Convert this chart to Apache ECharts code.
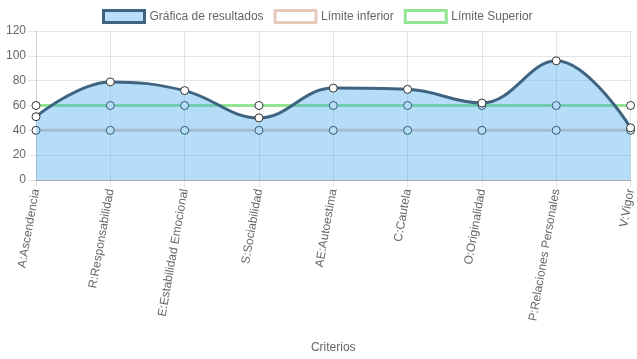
<!DOCTYPE html>
<html><head><meta charset="utf-8">
<script src="https://cdn.jsdelivr.net/npm/echarts@6/dist/echarts.min.js"></script>
<style>html,body{margin:0;padding:0;background:#fff}#c{width:637px;height:359px}</style>
</head><body><div id="c"></div>
<script>
const categories = ["A:Ascendencia","R:Responsabilidad","E:Estabilidad Emocional","S:Sociabilidad","AE:Autoestima","C:Cautela","O:Originalidad","P:Relaciones Personales","V:Vigor"];
const resultados = [51, 79, 72, 50, 74, 73, 62, 96, 42];
const limiteInferior = [40, 40, 40, 40, 40, 40, 40, 40, 40];
const limiteSuperior = [60, 60, 60, 60, 60, 60, 60, 60, 60];
const yTicks = {min: 0, max: 120, interval: 20};

const font = 'Liberation Sans, Arial, Helvetica, sans-serif';
const chart = echarts.init(document.getElementById('c'), null, {renderer: 'canvas'});
const sym = {color: '#fff', borderColor: '#333', borderWidth: 1};
chart.setOption({
  animation: false,
  textStyle: {fontFamily: font},
  legend: {
    top: 4, left: 97, itemWidth: 41, itemHeight: 12, itemGap: 10,
    textStyle: {color: '#666', fontSize: 12, fontFamily: font},
    data: [
      {name: 'Gráfica de resultados', icon: 'rect', itemStyle: {color: '#b9def8', borderColor: '#3e6482', borderWidth: 3}},
      {name: 'Límite inferior', icon: 'rect', itemStyle: {color: '#fff', borderColor: '#e6cbbd', borderWidth: 3}},
      {name: 'Límite Superior', icon: 'rect', itemStyle: {color: '#fff', borderColor: '#92e592', borderWidth: 3}}
    ]
  },
  grid: {left: 36, right: 4, top: 31, bottom: 179, containLabel: false},
  xAxis: {
    type: 'category', data: categories, boundaryGap: false,
    name: 'Criterios', nameLocation: 'middle', nameGap: 162,
    nameTextStyle: {color: '#666', fontSize: 12, fontFamily: font},
    axisLine: {show: true, lineStyle: {color: 'rgba(0,0,0,0.25)'}},
    axisTick: {show: true, length: 7, lineStyle: {color: 'rgba(0,0,0,0.1)'}},
    splitLine: {show: true, lineStyle: {color: 'rgba(0,0,0,0.1)'}},
    axisLabel: {rotate: 80, color: '#666', fontSize: 12, fontFamily: font, margin: 9, interval: 0}
  },
  yAxis: {
    type: 'value', min: yTicks.min, max: yTicks.max, interval: yTicks.interval,
    axisLine: {show: true, lineStyle: {color: 'rgba(0,0,0,0.1)'}},
    axisTick: {show: true, length: 8, lineStyle: {color: 'rgba(0,0,0,0.1)'}},
    splitLine: {show: true, lineStyle: {color: 'rgba(0,0,0,0.1)'}},
    axisLabel: {color: '#666', fontSize: 12, fontFamily: font, margin: 10}
  },
  series: [
    {name: 'Límite inferior', type: 'line', data: limiteInferior, z: 1,
     symbol: 'circle', symbolSize: 8, showSymbol: true, itemStyle: sym,
     lineStyle: {color: '#e6cbbd', width: 3}},
    {name: 'Límite Superior', type: 'line', data: limiteSuperior, z: 1,
     symbol: 'circle', symbolSize: 8, showSymbol: true, itemStyle: sym,
     lineStyle: {color: '#92e592', width: 3}},
    {name: 'Gráfica de resultados', type: 'line', data: resultados, z: 10, smooth: 0.4,
     symbol: 'circle', symbolSize: 8, showSymbol: true, itemStyle: sym,
     lineStyle: {color: '#3e6482', width: 3},
     areaStyle: {color: 'rgba(54,162,235,0.36)', opacity: 1, origin: 'start'}}
  ]
});
</script></body></html>
